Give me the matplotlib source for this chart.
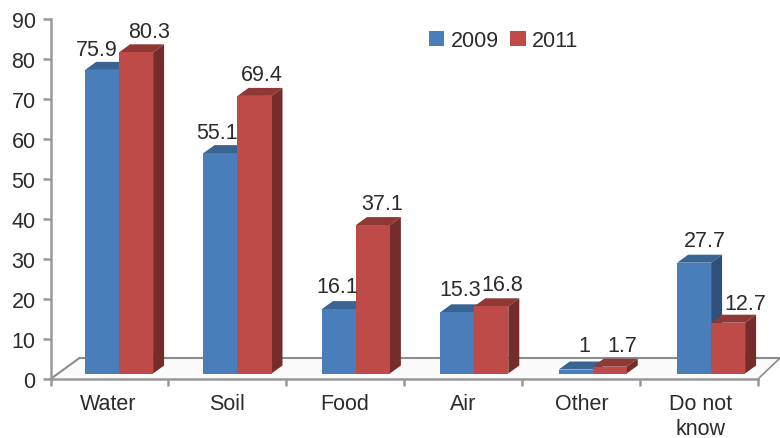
import matplotlib
matplotlib.use("Agg")
import matplotlib.pyplot as plt
from matplotlib.patches import Polygon, Patch
import numpy as np

categories = ["Water", "Soil", "Food", "Air", "Other", "Do not\nknow"]
values_2009 = [75.9, 55.1, 16.1, 15.3, 1, 27.7]
values_2011 = [80.3, 69.4, 37.1, 16.8, 1.7, 12.7]
labels_2009 = ["75.9", "55.1", "16.1", "15.3", "1", "27.7"]
labels_2011 = ["80.3", "69.4", "37.1", "16.8", "1.7", "12.7"]
y_ticks = [0, 10, 20, 30, 40, 50, 60, 70, 80, 90]
# label offsets in pixels from top-centre of the front face
offs_2009 = [(-5, 20), (-4, 21), (-2, 23), (3, 23), (9, 24), (11, 22)]
offs_2011 = [(13, 21), (7, 21), (9, 22), (11, 22), (13, 21), (17, 19)]

plt.rcParams["font.family"] = ["Liberation Sans", "DejaVu Sans"]
W, H = 780, 439
fig = plt.figure(figsize=(W / 100, H / 100), dpi=100, facecolor="white")
L, R, T, B = 50.5, 758.0, 20.0, 380.0
ax = fig.add_axes([L / W, 1 - B / H, (R - L) / W, (B - T) / H])
ax.set_xlim(0, len(categories))
ax.set_ylim(0, 90)
ax.set_facecolor("none")

px = len(categories) / (R - L)   # data x per pixel
py = 90 / (B - T)                # data y per pixel
GREY = "#999999"
TXT = "#2b2b2b"

# floor
dx_f, dy_f = 22 * px, 21 * py
xright = (780 - L) * px
ax.add_patch(Polygon([(0, 0), (len(categories), 0), (len(categories) + dx_f, dy_f),
                      (dx_f + 8 * px, dy_f)], closed=True, fc="#fbfbfb", ec="none",
                     clip_on=False, zorder=1))
ax.plot([0, 29 * px], [0, dy_f], color="#8c8c8c", lw=1.5, clip_on=False, zorder=2)
ax.plot([29 * px, xright], [dy_f, dy_f], color="#8c8c8c", lw=1.5, clip_on=False, zorder=2)
ax.plot([len(categories), len(categories) + dx_f], [0, dy_f], color="#8c8c8c", lw=1.2,
        clip_on=False, zorder=2)

base = 5.5 * py        # front face base above floor front
bw = 34 * px
first = 34.6 * px
step = 118.4 * px
dep_x, dep_y = 11 * px, 8 * py


def bars(vals, shift, front, top, side, z):
    xs = np.arange(len(vals)) * step + first + shift
    ax.bar(xs, vals, width=bw, bottom=base, align="edge", color=front, linewidth=0, zorder=z + 0.2)
    for x, v in zip(xs, vals):
        t = base + v
        ax.add_patch(Polygon([(x, t), (x + bw, t), (x + bw + dep_x, t + dep_y), (x + dep_x, t + dep_y)],
                             closed=True, fc=top, ec="none", zorder=z, clip_on=False))
        ax.add_patch(Polygon([(x + bw, base), (x + bw + dep_x, base + dep_y), (x + bw + dep_x, t + dep_y),
                              (x + bw, t)], closed=True, fc=side, ec="none", zorder=z, clip_on=False))
    return xs


xs09 = bars(values_2009, 0, "#4a7ebb", "#3a6593", "#2f5078", 3)
xs11 = bars(values_2011, bw, "#be4b48", "#8f3836", "#752d2c", 4)

for xs, vals, labs, offs in [(xs09, values_2009, labels_2009, offs_2009),
                             (xs11, values_2011, labels_2011, offs_2011)]:
    for x, v, s, (ox, oy) in zip(xs, vals, labs, offs):
        ax.annotate(s, (x + bw / 2, base + v), xytext=(ox * 0.72, oy * 0.72), textcoords="offset points",
                    ha="center", va="center", fontsize=15.5, color=TXT, zorder=6, annotation_clip=False)

for s in ["top", "right"]:
    ax.spines[s].set_visible(False)
for s in ["left", "bottom"]:
    ax.spines[s].set_color(GREY)
    ax.spines[s].set_linewidth(1.8)
    ax.spines[s].set_zorder(2)

ax.set_yticks(y_ticks)
ax.set_xticks(np.arange(len(categories) + 1))
ax.set_xticklabels([""] * (len(categories) + 1))
ax.tick_params(axis="y", length=5.8, width=1.8, color=GREY, labelsize=15.5, labelcolor=TXT, pad=5)
ax.tick_params(axis="x", length=5.2, width=1.8, color=GREY)

for i, c in enumerate(categories):
    ax.text(first + bw + i * step - 11 * px, -14.5 / (B - T), c, transform=ax.get_xaxis_transform(),
            ha="center", va="top", fontsize=15.5, color=TXT, linespacing=1.2, clip_on=False)

handles = [Patch(fc="#4a7ebb", label="2009"), Patch(fc="#be4b48", label="2011")]
ax.legend(handles=handles, ncols=2, frameon=False, fontsize=15.5, labelcolor=TXT,
          loc="center left", bbox_to_anchor=((429 - L) / (R - L), (B - 41.5) / (B - T)),
          handlelength=0.7, handleheight=0.7, handletextpad=0.3, columnspacing=0.55,
          borderpad=0, borderaxespad=0)

fig.savefig("out.png", dpi=100, facecolor="white")
